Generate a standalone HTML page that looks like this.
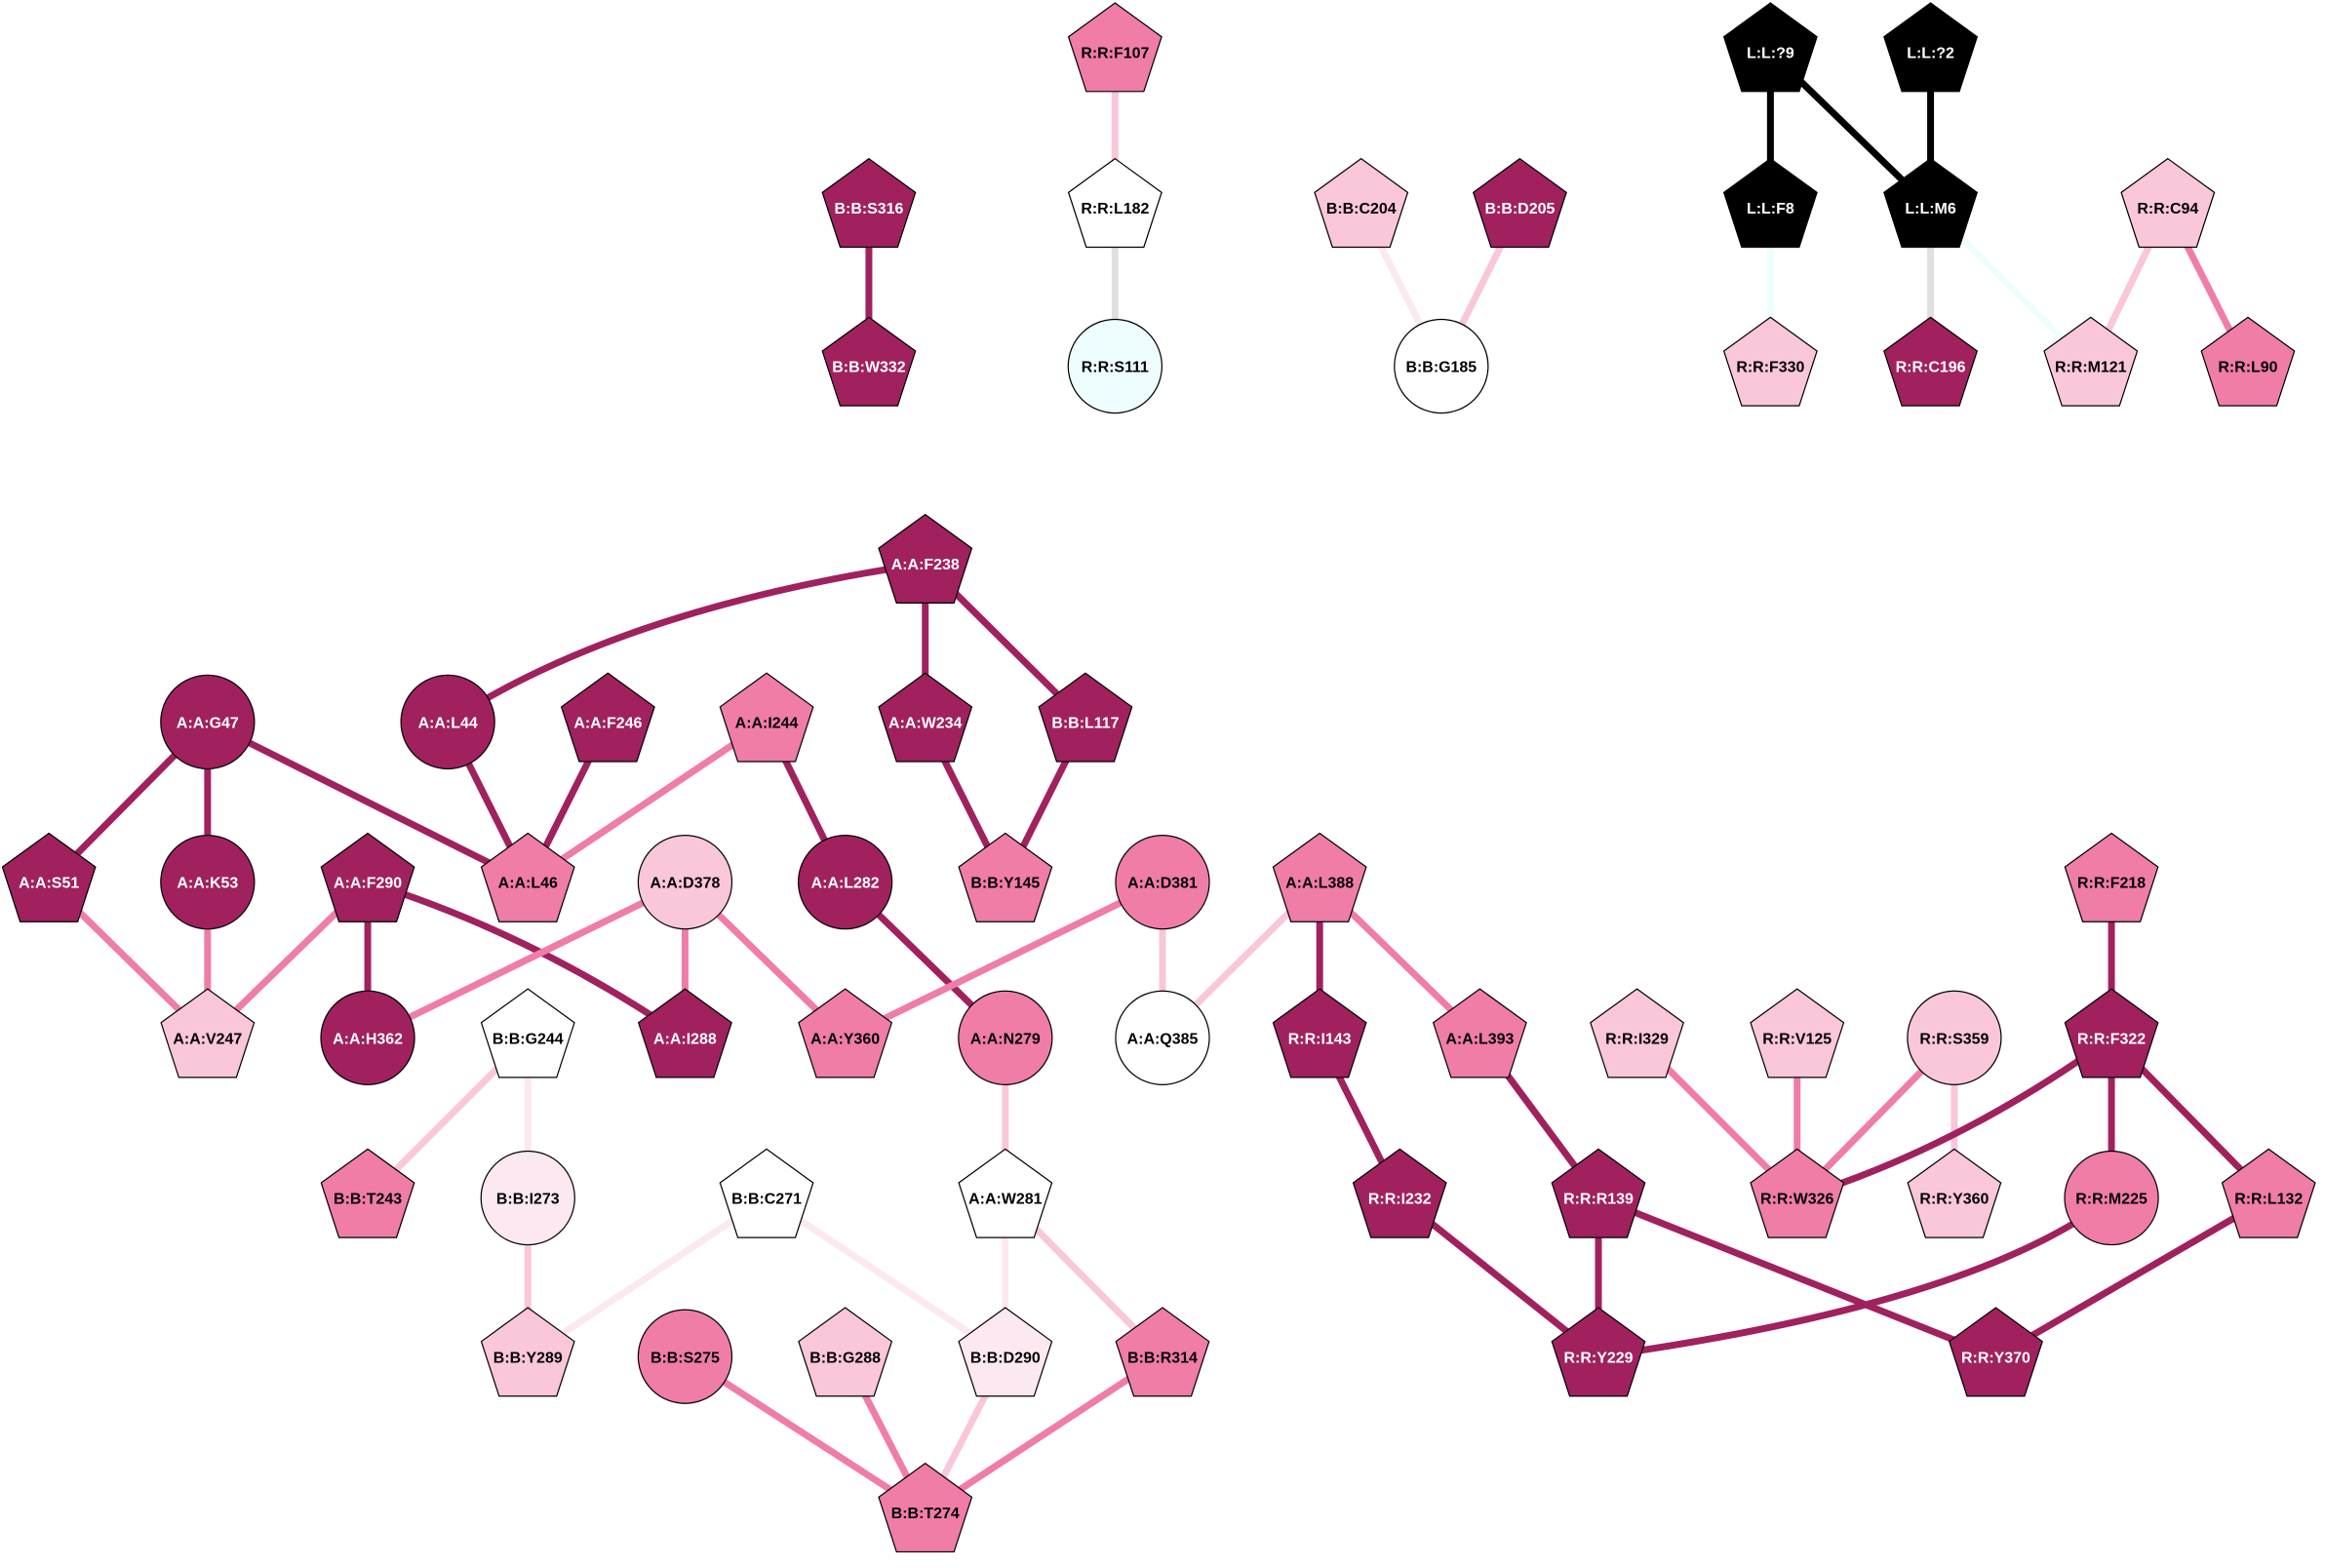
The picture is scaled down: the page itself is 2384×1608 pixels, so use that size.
<!DOCTYPE html>
<html><head><meta charset="utf-8"><style>html,body{margin:0;padding:0;background:#fff}svg{display:block}</style></head>
<body>
<svg id="s" xmlns="http://www.w3.org/2000/svg" width="2384" height="1608" viewBox="0 0 1568 1057.6" preserveAspectRatio="none">
<rect width="1568" height="1058" fill="#fff"/>
<g id="e"></g><g id="n"></g>
</svg>
<script>
var D="#a0215e",M="#f07ca8",L="#f9c6da",V="#fce8f0",W="#ffffff",C="#eefefe",K="#000000",G="#e0e0e0";
var N={
"R:R:F107":[752,35,"p",M],"R:R:L182":[752,140,"p",W],"R:R:S111":[752,247,"c",C],
"B:B:S316":[586,140,"p",D],"B:B:W332":[586,247,"p",D],"B:B:C204":[918,140,"p",L],"B:B:D205":[1025,140,"p",D],"B:B:G185":[972,247,"c",W],
"L:L:?9":[1194,35,"p",K],"L:L:?2":[1302,35,"p",K],"L:L:F8":[1194,140,"p",K],"L:L:M6":[1302,140,"p",K],
"R:R:F330":[1194,247,"p",L],"R:R:C196":[1302,247,"p",D],"R:R:M121":[1410,247,"p",L],"R:R:C94":[1462,140,"p",L],"R:R:L90":[1516,247,"p",M],
"A:A:F238":[624,380,"p",D],"A:A:G47":[140,487,"c",D],"A:A:L44":[302,487,"c",D],"A:A:F246":[410,487,"p",D],"A:A:I244":[517,487,"p",M],
"A:A:W234":[624,487,"p",D],"B:B:L117":[732,487,"p",D],"A:A:S51":[33,595,"p",D],"A:A:K53":[140,595,"c",D],"A:A:F290":[248,595,"p",D],
"A:A:L46":[356,595,"p",M],"A:A:D378":[462,595,"c",L],"A:A:L282":[570,595,"c",D],"B:B:Y145":[678,595,"p",M],"A:A:D381":[784,595,"c",M],
"A:A:L388":[890,595,"p",M],"R:R:F218":[1424,595,"p",M],"A:A:V247":[140,700,"p",L],"A:A:H362":[248,700,"c",D],"B:B:G244":[356,700,"p",W],
"A:A:I288":[462,700,"p",D],"A:A:Y360":[570,700,"p",M],"A:A:N279":[678,700,"c",M],"A:A:Q385":[784,700,"c",W],"R:R:I143":[890,700,"p",D],
"A:A:L393":[998,700,"p",M],"R:R:I329":[1104,700,"p",L],"R:R:V125":[1212,700,"p",L],"R:R:S359":[1318,700,"c",L],"R:R:F322":[1424,700,"p",D],
"B:B:T243":[248,808,"p",M],"B:B:I273":[356,808,"c",V],"B:B:C271":[517,808,"p",W],"A:A:W281":[678,808,"p",W],"R:R:I232":[944,808,"p",D],
"R:R:R139":[1078,808,"p",D],"R:R:W326":[1212,808,"p",M],"R:R:Y360":[1318,808,"p",L],"R:R:M225":[1424,808,"c",M],"R:R:L132":[1530,808,"p",M],
"B:B:Y289":[356,915,"p",L],"B:B:S275":[462,915,"c",M],"B:B:G288":[570,915,"p",L],"B:B:D290":[678,915,"p",V],"B:B:R314":[784,915,"p",M],
"R:R:Y229":[1078,915,"p",D],"R:R:Y370":[1346,915,"p",D],"B:B:T274":[624,1020,"p",M]};
var E=[
["R:R:F107","R:R:L182",L],["R:R:L182","R:R:S111",G],["B:B:S316","B:B:W332",D],["B:B:C204","B:B:G185",V],["B:B:D205","B:B:G185",L],
["L:L:?9","L:L:F8",K],["L:L:?9","L:L:M6",K],["L:L:?2","L:L:M6",K],["L:L:F8","R:R:F330",C],["L:L:M6","R:R:C196",G],["L:L:M6","R:R:M121",C],
["R:R:C94","R:R:M121",L],["R:R:C94","R:R:L90",M],
["A:A:F238","A:A:L44",D,[420,410]],["A:A:F238","A:A:W234",D],["A:A:F238","B:B:L117",D],["A:A:G47","A:A:S51",D],["A:A:G47","A:A:K53",D],
["A:A:G47","A:A:L46",D],["A:A:L44","A:A:L46",D],["A:A:F246","A:A:L46",D],["A:A:I244","A:A:L46",M],["A:A:I244","A:A:L282",D],
["A:A:W234","B:B:Y145",D],["B:B:L117","B:B:Y145",D],["A:A:S51","A:A:V247",M],["A:A:K53","A:A:V247",M],["A:A:F290","A:A:V247",M],
["A:A:F290","A:A:H362",D],["A:A:F290","A:A:I288",D,[360,630]],["A:A:D378","A:A:H362",M],["A:A:D378","A:A:I288",M],["A:A:D378","A:A:Y360",M],
["A:A:L282","A:A:N279",D],["A:A:D381","A:A:Y360",M],["A:A:D381","A:A:Q385",L],["A:A:L388","A:A:Q385",L],["A:A:L388","R:R:I143",D],
["A:A:L388","A:A:L393",M],["R:R:F218","R:R:F322",D],["B:B:G244","B:B:T243",L],["B:B:G244","B:B:I273",V],["B:B:I273","B:B:Y289",L],
["B:B:C271","B:B:Y289",V],["B:B:C271","B:B:D290",V],["A:A:N279","A:A:W281",L],["A:A:W281","B:B:D290",V],["A:A:W281","B:B:R314",L],
["R:R:I143","R:R:I232",D],["A:A:L393","R:R:R139",D],["R:R:I329","R:R:W326",M],["R:R:V125","R:R:W326",M],["R:R:S359","R:R:W326",M],
["R:R:S359","R:R:Y360",L],["R:R:F322","R:R:W326",D,[1320,775]],["R:R:F322","R:R:M225",D],["R:R:F322","R:R:L132",D],["R:R:I232","R:R:Y229",D],
["R:R:R139","R:R:Y229",D],["R:R:R139","R:R:Y370",D],["R:R:M225","R:R:Y229",D,[1330,880]],["R:R:L132","R:R:Y370",D],
["B:B:S275","B:B:T274",M],["B:B:G288","B:B:T274",M],["B:B:D290","B:B:T274",L],["B:B:R314","B:B:T274",M]];
var ns="http://www.w3.org/2000/svg",ge=document.getElementById("e"),gn=document.getElementById("n");
function el(t,a,p){var x=document.createElementNS(ns,t);for(var k in a)x.setAttribute(k,a[k]);p.appendChild(x);return x;}
E.forEach(function(e){var a=N[e[0]],b=N[e[1]],d;
 if(e[3])d="M"+a[0]+","+a[1]+" Q"+e[3][0]+","+e[3][1]+" "+b[0]+","+b[1];else d="M"+a[0]+","+a[1]+" L"+b[0]+","+b[1];
 el("path",{d:d,stroke:e[2],"stroke-width":4.6,fill:"none"},ge);});
for(var k in N){var n=N[k],x=n[0],y=n[1];
 if(n[2]=="c")el("circle",{cx:x,cy:y,r:31.6,fill:n[3],stroke:"#000","stroke-width":0.8},gn);
 else{var r=33,p=[];for(var i=0;i<5;i++){var t=(-90+72*i)*Math.PI/180;p.push((x+r*Math.cos(t)).toFixed(1)+","+(y+r*Math.sin(t)).toFixed(1));}
  el("polygon",{points:p.join(" "),fill:n[3],stroke:"#000","stroke-width":0.8},gn);}
 var tx=el("text",{x:x,y:y+4,"text-anchor":"middle","font-family":"Liberation Sans, Arial, sans-serif","font-size":10.5,"font-weight":"bold",fill:(n[3]==D||n[3]==K)?"#fff":"#000"},gn);
 tx.textContent=k;}
</script>
</body></html>
